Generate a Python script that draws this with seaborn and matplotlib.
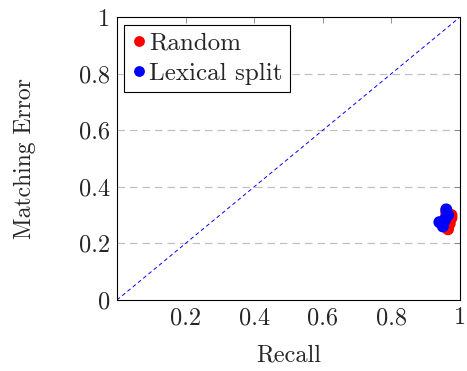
import numpy as np
import pandas as pd
import matplotlib
matplotlib.use('Agg')
import matplotlib.pyplot as plt
import seaborn as sb

sb.set_style('white')
plt.rcParams['font.family'] = ['cmr10', 'DejaVu Serif']
plt.rcParams['axes.formatter.use_mathtext'] = True
plt.rcParams['mathtext.fontset'] = 'cm'

# values
random_recall = [0.975, 0.970, 0.965, 0.975, 0.960, 0.968]
random_error = [0.300, 0.270, 0.250, 0.290, 0.310, 0.285]
lexical_recall = [0.960, 0.965, 0.955, 0.940, 0.950, 0.958]
lexical_error = [0.320, 0.300, 0.280, 0.275, 0.260, 0.290]

x_ticks = [0.2, 0.4, 0.6, 0.8, 1.0]
x_labels = ['0.2', '0.4', '0.6', '0.8', '1']
y_ticks = [0, 0.2, 0.4, 0.6, 0.8, 1.0]
y_labels = ['0', '0.2', '0.4', '0.6', '0.8', '1']

df = pd.DataFrame({
    'Recall': random_recall + lexical_recall,
    'Error': random_error + lexical_error,
    'split': ['Random'] * len(random_recall) + ['Lexical split'] * len(lexical_recall),
})

fig = plt.figure(figsize=(4.67, 3.71), dpi=100)
ax = fig.add_axes([0.2505, 0.1914, 0.7345, 0.7626])

for y in y_ticks[1:-1]:
    ax.axhline(y, color='#c0c0c0', ls=(0, (6, 4)), lw=0.9, zorder=0)
ax.plot([0, 1], [0, 1], color='blue', ls=(0, (4, 3)), lw=0.7, zorder=1)

sb.scatterplot(data=df, x='Recall', y='Error', hue='split',
               palette={'Random': 'red', 'Lexical split': 'blue'},
               s=75, linewidth=0, ax=ax, zorder=3)

ax.set_xlim(0, 1)
ax.set_ylim(0, 1)
ax.set_xticks(x_ticks)
ax.set_xticklabels(x_labels)
ax.set_yticks(y_ticks)
ax.set_yticklabels(y_labels)
ax.tick_params(direction='in', length=4, width=0.6, labelsize=17.5,
               top=True, right=True, pad=5, color='#808080')
ax.set_xlabel('Recall', fontsize=17.5, labelpad=11)
ax.set_ylabel('Matching Error', fontsize=17, labelpad=31)
for s in ax.spines.values():
    s.set_color('black')
    s.set_linewidth(0.8)

leg = ax.legend(loc='upper left', fontsize=18, frameon=True, fancybox=False,
                edgecolor='black', framealpha=1, handletextpad=0.1,
                borderpad=0.3, labelspacing=0.3, handlelength=0.6,
                borderaxespad=0.3, markerscale=0.9)
leg.get_frame().set_linewidth(0.8)

fig.savefig('out.png', dpi=100)
